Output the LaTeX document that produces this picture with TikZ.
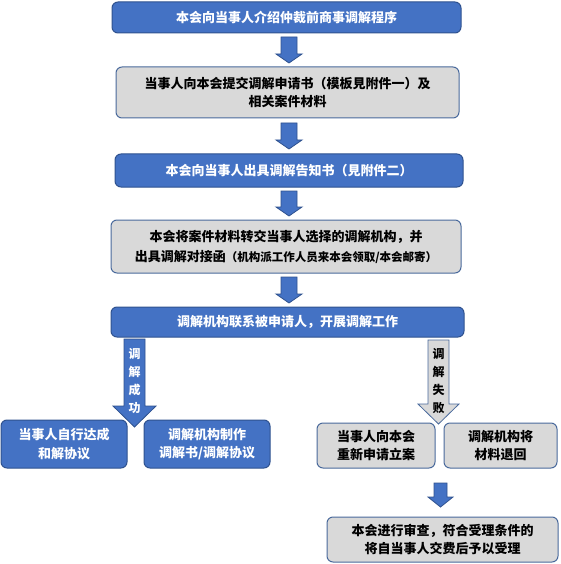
\documentclass[tikz,border=0pt]{standalone}
\usepackage{fontspec}
\newfontfamily\cjk{Noto Sans CJK SC}
\usetikzlibrary{calc}
\definecolor{boxblue}{HTML}{4472C4}
\definecolor{edgeblue}{HTML}{2F528F}
\definecolor{boxgray}{HTML}{D9D9D9}
\definecolor{grayedge}{HTML}{4A6A9C}
\tikzset{
  basebox/.style={rounded corners=6pt, line width=1pt, align=center, inner sep=0pt,
    font=\cjk\bfseries\fontsize{13}{18.5}\selectfont},
  bluebox/.style={basebox, fill=boxblue, draw=edgeblue, text=white},
  graybox/.style={basebox, fill=boxgray, draw=grayedge, text=black},
  bluearrow/.style={fill=boxblue, draw=edgeblue, line width=0.8pt, line join=miter},
  grayarrow/.style={fill=boxgray, draw=grayedge, line width=0.8pt, line join=miter},
  vlabel/.style={align=center, inner sep=0pt, font=\cjk\bfseries\fontsize{12}{18}\selectfont},
}
% #1 style, #2 top coord, #3 tip coord, #4 half shaft, #5 half head, #6 head length
\newcommand\blockarrow[6]{%
  \draw[#1] ($(#2)+(-#4,0)$) -- ($(#2)+(#4,0)$) -- ($(#3)+(#4,-#6)$) -- ($(#3)+(#5,-#6)$)
    -- (#3) -- ($(#3)+(-#5,-#6)$) -- ($(#3)+(-#4,-#6)$) -- cycle;}
\begin{document}
\begin{tikzpicture}[x=1pt, y=-1pt]
\useasboundingbox (0,0) rectangle (560,564);

\node[bluebox, minimum width=349pt, minimum height=31pt] (b1) at (286.5,17.5) {本会向当事人介绍仲裁前商事调解程序};
\node[graybox, minimum width=343pt, minimum height=51pt] (b2) at (287.5,92.5) {当事人向本会提交调解申请书（模板見附件一）及\\相关案件材料};
\node[bluebox, minimum width=348pt, minimum height=33pt] (b3) at (289,170.5) {本会向当事人出具调解告知书（見附件二）};
\node[graybox, minimum width=350pt, minimum height=53pt, font=\cjk\bfseries\fontsize{13}{20}\selectfont] (b4) at (286,246.5) {本会将案件材料转交当事人选择的调解机构，并\\出具调解对接函{\fontsize{11.5}{20}\selectfont（机构派工作人员来本会领取/本会邮寄）}};
\node[bluebox, minimum width=353pt, minimum height=30pt] (b5) at (287.5,322) {调解机构联系被申请人，开展调解工作};

\node[bluebox, minimum width=126pt, minimum height=48pt] (l1) at (64,444) {当事人自行达成\\和解协议};
\node[bluebox, minimum width=126pt, minimum height=48pt] (l2) at (207,444) {调解机构制作\\调解书/调解协议};
\node[graybox, minimum width=118pt, minimum height=45pt] (r1) at (376,445.5) {当事人向本会\\重新申请立案};
\node[graybox, minimum width=113pt, minimum height=45pt] (r2) at (500.5,445.5) {调解机构将\\材料退回};
\node[graybox, minimum width=231pt, minimum height=45pt] (f) at (442.5,539.5) {本会进行审查，符合受理条件的\\将自当事人交费后予以受理};

% main arrows
\coordinate (a1t) at (289,37);  \coordinate (a1b) at (289,63);
\coordinate (a2t) at (289,123); \coordinate (a2b) at (289,149);
\coordinate (a3t) at (289,191); \coordinate (a3b) at (289,216);
\coordinate (a4t) at (289,277); \coordinate (a4b) at (289,303);
\blockarrow{bluearrow}{a1t}{a1b}{8}{13}{9}
\blockarrow{bluearrow}{a2t}{a2b}{8}{13}{9}
\blockarrow{bluearrow}{a3t}{a3b}{8}{13}{9}
\blockarrow{bluearrow}{a4t}{a4b}{8}{13}{9}

% branch arrows
\coordinate (lt) at (134.5,339); \coordinate (lb) at (134.5,427);
\coordinate (rt) at (438.5,340); \coordinate (rb) at (438.5,424);
\blockarrow{bluearrow}{lt}{lb}{10.5}{21.5}{21}
\blockarrow{grayarrow}{rt}{rb}{10.5}{20.5}{20}
\node[vlabel, text=white] (lsucc) at (134.5,381) {调\\解\\成\\功};
\node[vlabel, text=black] (rfail) at (438.5,381) {调\\解\\失\\败};

% bottom arrow
\coordinate (bt) at (440.5,483); \coordinate (bb) at (440.5,507);
\blockarrow{bluearrow}{bt}{bb}{6.5}{12.5}{10}
\end{tikzpicture}
\end{document}
